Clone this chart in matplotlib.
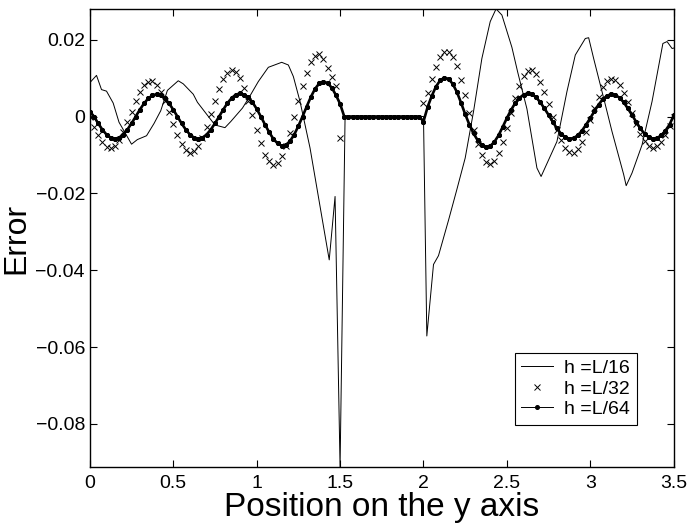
import numpy as np
import matplotlib
matplotlib.use('Agg')
import matplotlib.pyplot as plt
from matplotlib.ticker import FuncFormatter

plt.rcParams['font.family'] = ['Liberation Sans', 'DejaVu Sans']

# h = L/16 : coarse grid (error in 1e-4)
x16 = [0.0, 0.04, 0.07, 0.10, 0.14, 0.175, 0.195, 0.25, 0.285, 0.34,
       0.385, 0.425, 0.465, 0.53, 0.56, 0.62, 0.645, 0.70, 0.75, 0.81,
       0.845, 0.915, 0.955, 1.01, 1.07, 1.15, 1.19, 1.22, 1.26, 1.32,
       1.435, 1.47, 1.50, 1.53, 2.0, 2.02, 2.06, 2.09, 2.15, 2.2,
       2.25, 2.30, 2.35, 2.40, 2.435, 2.47, 2.53, 2.565, 2.62, 2.68,
       2.705, 2.80, 2.86, 2.91, 2.97, 2.99, 3.02, 3.08, 3.13, 3.20,
       3.215, 3.25, 3.31, 3.37, 3.435, 3.46, 3.49, 3.5]
e16 = [88, 107, 70, 66, 35, -15, -30, -72, -60, -50,
       -18, 15, 68, 93, 85, 58, 37, 6, -22, -29,
       -13, 22, 50, 91, 128, 141, 134, 104, 39, -82,
       -373, -208, -912, 0, 0, -571, -385, -362, -270, -190,
       -108, 13, 151, 247, 280, 264, 180, 115, 20, -134,
       -156, -65, 65, 160, 203, 205, 151, 48, -39, -151,
       -180, -147, -74, 39, 190, 195, 177, 178]

# finer grids, sampled every 0.025 along y (error in 1e-4)
ypos = np.linspace(0, 3.5, 141)

e32 = ([0, -26, -49, -67, -79, -82, -76, -62, -41, -15,
        13, 40, 64, 82, 91, 92, 83, 65, 40, 11,
        -20, -49, -72, -88, -95, -91, -78, -55, -26, 7,
        41, 72, 97, 114, 121, 117, 101, 75, 41, 3,
        -35, -70, -99, -117, -125, -120, -104, -77, -42, -2,
        40, 79, 114, 141, 157, 162, 150, 127, 103, 80,
        -56]
       + [np.nan] * 19
       + [35, 62, 98, 130, 155, 167, 168, 156, 131, 96,
          55, 10, -34, -72, -101, -119, -124, -116, -96, -66,
          -30, 10, 48, 80, 105, 119, 120, 111, 91, 65,
          33, -1, -34, -62, -82, -93, -94, -84, -66, -40,
          -9, 22, 52, 76, 92, 98, 94, 82, 62, 37,
          9, -20, -45, -65, -78, -82, -77, -66, -47, -25,
          0])

e64 = ([13, 0, -18, -34, -47, -55, -58, -55, -47, -34,
        -18, 0, 18, 34, 47, 55, 58, 55, 47, 34,
        18, 0, -18, -34, -47, -55, -58, -55, -47, -34,
        -18, 0, 18, 35, 48, 57, 60, 57, 50, 37,
        20, 0, -21, -41, -58, -70, -76, -74, -64, -47,
        -25, 0, 26, 51, 72, 86, 91, 87, 75, 56,
        33]
       + [0] * 19
       + [-13, 25, 54, 78, 94, 101, 98, 85, 64, 36,
          6, -21, -44, -62, -74, -80, -77, -66, -49, -27,
          -4, 17, 35, 48, 57, 60, 58, 50, 37, 21,
          4, -14, -31, -45, -54, -58, -56, -49, -37, -21,
          -4, 14, 31, 45, 54, 58, 56, 49, 37, 21,
          4, -14, -31, -45, -54, -58, -56, -49, -37, -21,
          3])

x16 = np.array(x16)
e16 = np.array(e16) * 1e-4
e32 = np.array(e32, dtype=float) * 1e-4
e64 = np.array(e64) * 1e-4

fig = plt.figure(figsize=(6.91, 5.23), dpi=100)
ax = fig.add_axes([0.130, 0.107, 0.845, 0.876])

ax.plot(x16, e16, color='k', lw=0.7, label='h =L/16')
ax.plot(ypos, e32, ls='none', marker='x', ms=4.5, mew=0.7, color='k', label='h =L/32')
# dense dots make the L/64 curve look bold; the legend keeps a thin line
ax.plot(ypos, e64, color='k', lw=1.9, marker='o', ms=2.6)
ax.plot(ypos, e64, color='k', lw=0.7, marker='o', ms=2.6, label='h =L/64')

ax.set_xlim(0, 3.5)
ax.set_ylim(-0.0912, 0.028)
ax.set_xticks(np.arange(0, 3.51, 0.5))
ax.set_yticks([-0.08, -0.06, -0.04, -0.02, 0, 0.02])
fmt = FuncFormatter(lambda v, p: ('%g' % v).replace('-', '\u2212'))
ax.xaxis.set_major_formatter(fmt)
ax.yaxis.set_major_formatter(fmt)
ax.tick_params(direction='in', top=True, right=True, length=5, width=0.8, labelsize=14)
ax.tick_params(axis='x', pad=6)
for s in ax.spines.values():
    s.set_linewidth(1.0)

ax.set_xlabel('Position on the y axis', fontsize=24, labelpad=0)
ax.set_ylabel('Error', fontsize=23, labelpad=3)

leg = ax.legend(loc='lower right', bbox_to_anchor=(0.937, 0.092), borderaxespad=0,
                fontsize=14, fancybox=False, framealpha=1, edgecolor='k',
                handlelength=1.6, handletextpad=0.6, borderpad=0.35, labelspacing=0.15)
leg.get_frame().set_linewidth(0.8)

fig.savefig('out.png', dpi=100)
